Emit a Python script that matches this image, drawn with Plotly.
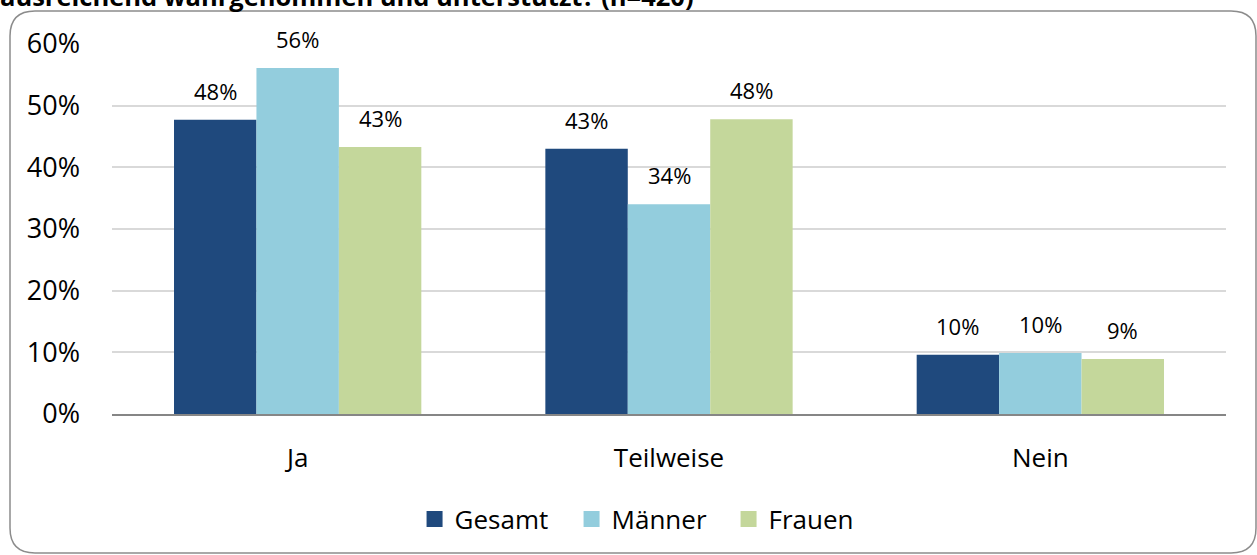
import plotly.graph_objects as go

categories = ["Ja", "Teilweise", "Nein"]
series_names = ["Gesamt", "Männer", "Frauen"]
gesamt = [0.477, 0.430, 0.096]
maenner = [0.561, 0.340, 0.099]
frauen = [0.433, 0.478, 0.089]
y_ticks = [0, 0.1, 0.2, 0.3, 0.4, 0.5, 0.6]
title_text = "ausreichend wahrgenommen und unterstützt? (n=420)"

colors = ["#1F497D", "#93CDDD", "#C4D79B"]
FONT = "Open Sans"

W, H = 1257, 555
ml, mr, mt, mb = 112, 31, 44, 141
pw, ph = W - ml - mr, H - mt - mb
BARGAP = 0.334
bar_px = pw / len(categories) * (1 - BARGAP) / len(series_names)

fig = go.Figure()
annotations = []
all_vals = [gesamt, maenner, frauen]
for i, (name, vals, col) in enumerate(zip(series_names, all_vals, colors)):
    fig.add_trace(go.Bar(
        x=categories, y=vals, name=name, marker=dict(color=col, line=dict(width=0)),
        showlegend=False,
    ))
    # legend-only entry with a larger square symbol
    fig.add_trace(go.Scatter(
        x=[None], y=[None], mode="markers", name=name,
        marker=dict(symbol="square", size=16, color=col),
    ))
    for cat, v in zip(categories, vals):
        annotations.append(dict(
            x=cat, y=v, xref="x", yref="y", text=f"{v:.0%}", showarrow=False,
            xanchor="center", yanchor="bottom", xshift=(i - 1) * bar_px, yshift=12,
            font=dict(family=FONT, size=22, color="#000000"),
        ))

def px_x(p):
    return (p - ml) / pw

def px_y(p):
    return (H - mb - p) / ph

# rounded border
x0, x1, y0, y1 = px_x(10), px_x(1256), px_y(553), px_y(11)
rx, ry = 25 / pw, 25 / ph
path = (f"M {x0+rx},{y1} L {x1-rx},{y1} Q {x1},{y1} {x1},{y1-ry} "
        f"L {x1},{y0+ry} Q {x1},{y0} {x1-rx},{y0} L {x0+rx},{y0} "
        f"Q {x0},{y0} {x0},{y0+ry} L {x0},{y1-ry} Q {x0},{y1} {x0+rx},{y1} Z")

annotations.append(dict(text=f"<b>{title_text}</b>", xref="paper", yref="paper",
                        x=px_x(-2), y=px_y(-4), xanchor="left", yanchor="middle",
                        showarrow=False, font=dict(family=FONT, size=25.5, color="#000000")))

fig.update_layout(
    width=W, height=H,
    margin=dict(l=ml, r=mr, t=mt, b=mb, pad=0),
    paper_bgcolor="white", plot_bgcolor="white",
    barmode="group", bargap=BARGAP, bargroupgap=0,
    font=dict(family=FONT, color="#000000"),
    showlegend=True,
    legend=dict(orientation="h", x=0.483, xanchor="center", y=px_y(519), yanchor="middle",
                font=dict(family=FONT, size=26), itemwidth=30, traceorder="normal",
                entrywidth=112, itemsizing="trace"),
    shapes=[dict(type="path", path=path, xref="paper", yref="paper",
                 line=dict(color="#8C8C8C", width=1.5), fillcolor="rgba(0,0,0,0)", layer="below")],
    annotations=annotations,
)
fig.update_yaxes(range=[0, 0.6], tickvals=y_ticks, tickformat=".0%",
                 showgrid=True, gridcolor="#D9D9D9", gridwidth=1.5,
                 zeroline=False, showline=False, ticks="",
                 tickfont=dict(family=FONT, size=27), ticklabelstandoff=31)
fig.update_xaxes(showline=True, linecolor="#868686", linewidth=1.5, ticks="",
                 tickfont=dict(family=FONT, size=26), ticklabelstandoff=20)

fig.write_html("out.html", config={"displayModeBar": False},
               post_script="document.body.style.margin='0';document.body.style.padding='0';")
